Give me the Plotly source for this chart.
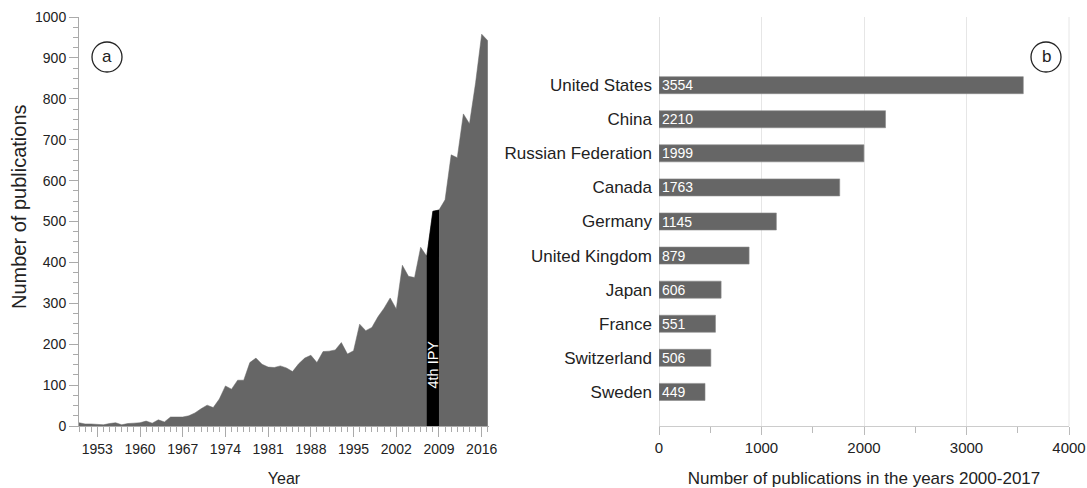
import plotly.graph_objects as go

# ---- Data: panel a (publications per year) ----
years = list(range(1950, 2018))
pubs = [8, 5, 5, 4, 3, 6, 8, 3, 6, 7,
        8, 12, 7, 15, 10, 22, 22, 22, 25, 32,
        42, 51, 45, 66, 98, 90, 112, 112, 155, 166,
        151, 144, 143, 147, 142, 133, 152, 166, 173, 155,
        182, 183, 186, 204, 176, 184, 249, 233, 241, 267,
        288, 313, 286, 393, 366, 363, 437, 415, 525, 528,
        553, 663, 656, 763, 739, 839, 958, 942]
ipy_years = [2007, 2008, 2009]
year_ticks = [1953, 1960, 1967, 1974, 1981, 1988, 1995, 2002, 2009, 2016]

# ---- Data: panel b (publications by country 2000-2017) ----
countries = ["United States", "China", "Russian Federation", "Canada", "Germany",
             "United Kingdom", "Japan", "France", "Switzerland", "Sweden"]
counts = [3554, 2210, 1999, 1763, 1145, 879, 606, 551, 506, 449]

W, H = 1087, 488
FONT = "Liberation Sans, Arial, sans-serif"
GREY = "#666666"
TXT = "#222222"
TICKC = "#aaaaaa"

ipy_vals = [pubs[years.index(y)] for y in ipy_years]

fig = go.Figure()
fig.add_trace(go.Scatter(x=years, y=pubs, mode="lines", fill="tozeroy",
                         line=dict(color=GREY, width=0.5), fillcolor=GREY,
                         xaxis="x", yaxis="y", hoverinfo="x+y", showlegend=False))
fig.add_trace(go.Scatter(x=ipy_years, y=ipy_vals, mode="lines", fill="tozeroy",
                         line=dict(color="black", width=0.5), fillcolor="black",
                         xaxis="x", yaxis="y", showlegend=False))
fig.add_trace(go.Bar(y=countries, x=counts, orientation="h",
                     marker=dict(color=GREY, line=dict(color="#8a8a8a", width=0.6)),
                     width=0.5, text=[str(c) for c in counts],
                     textposition="inside", insidetextanchor="start", textangle=0,
                     constraintext="none",
                     textfont=dict(color="white", size=14, family=FONT),
                     xaxis="x2", yaxis="y2", showlegend=False))

x1d = [79 / W, 489 / W]
x2d = [659 / W, 1069 / W]
yd = [(H - 426) / H, (H - 17) / H]

fig.update_layout(
    width=W, height=H,
    margin=dict(l=0, r=0, t=0, b=0),
    paper_bgcolor="white", plot_bgcolor="white",
    font=dict(family=FONT, color=TXT, size=14),
    xaxis=dict(domain=x1d, anchor="y", range=[1950, 2017.2],
               tickvals=year_ticks, ticks="outside", ticklen=10, tickcolor=TICKC,
               tickfont=dict(size=14, color=TXT), showgrid=False, zeroline=False,
               showline=True, linecolor=TICKC, linewidth=1,
               minor=dict(dtick=1, tick0=1950, ticks="outside", ticklen=5, tickcolor=TICKC, showgrid=False),
               title=dict(text="Year", font=dict(size=16, color=TXT), standoff=17),
               automargin=False),
    yaxis=dict(domain=yd, anchor="x", range=[0, 1000], dtick=100,
               ticks="outside", ticklen=9, tickcolor=TICKC,
               tickfont=dict(size=14, color=TXT), showgrid=False, zeroline=False,
               showline=True, linecolor=TICKC, linewidth=1,
               minor=dict(dtick=25, ticks="outside", ticklen=5, tickcolor=TICKC, showgrid=False),
               automargin=False),
    xaxis2=dict(domain=x2d, anchor="y2", range=[0, 4000], dtick=1000,
                ticks="outside", ticklen=8, tickcolor="#bbbbbb",
                tickfont=dict(size=15, color=TXT), showgrid=True, gridcolor="#e6e6e6",
                zeroline=True, zerolinecolor="#e0e0e0", zerolinewidth=1,
                showline=True, linecolor="#cccccc", linewidth=1,
                minor=dict(dtick=500, ticks="outside", ticklen=6, tickcolor="#bbbbbb", showgrid=False),
                title=dict(text="Number of publications in the years 2000-2017",
                           font=dict(size=17, color=TXT), standoff=17),
                automargin=False),
    yaxis2=dict(domain=yd, anchor="x2", type="category",
                categoryorder="array", categoryarray=countries,
                range=[10, -2], ticks="", showgrid=False, zeroline=False,
                showline=False, tickfont=dict(size=17, color=TXT),
                ticklabelstandoff=6, automargin=False),
    shapes=[
        dict(type="line", xref="paper", yref="paper", x0=1069 / W, x1=1069 / W,
             y0=yd[0], y1=yd[1], line=dict(color="#e6e6e6", width=1)),
        dict(type="circle", xref="paper", yref="paper", xsizemode="pixel", ysizemode="pixel",
             xanchor=107 / W, yanchor=1 - 57 / H, x0=-15, x1=15, y0=-15, y1=15,
             line=dict(color=TXT, width=1.3)),
        dict(type="circle", xref="paper", yref="paper", xsizemode="pixel", ysizemode="pixel",
             xanchor=1046 / W, yanchor=1 - 57 / H, x0=-15, x1=15, y0=-15, y1=15,
             line=dict(color=TXT, width=1.3)),
    ],
    annotations=[
        dict(text="Number of publications", xref="paper", yref="paper",
             x=19 / W, y=1 - 207 / H, textangle=-90, xanchor="center", yanchor="middle",
             showarrow=False, font=dict(size=20, color=TXT)),
        dict(text="a", xref="paper", yref="paper", x=107 / W, y=1 - 56 / H,
             xanchor="center", yanchor="middle",
             showarrow=False, font=dict(size=17, color=TXT)),
        dict(text="b", xref="paper", yref="paper", x=1046 / W, y=1 - 56 / H,
             xanchor="center", yanchor="middle",
             showarrow=False, font=dict(size=17, color=TXT)),
        dict(text="4th IPY", xref="x", yref="y", x=2008, y=150, textangle=-90,
             xanchor="center", yanchor="middle",
             showarrow=False, font=dict(size=14.5, color="white")),
    ],
)

fig.write_html("out.html", config={"displayModeBar": False},
               post_script="document.body.style.margin='0';document.body.style.overflow='hidden';")
